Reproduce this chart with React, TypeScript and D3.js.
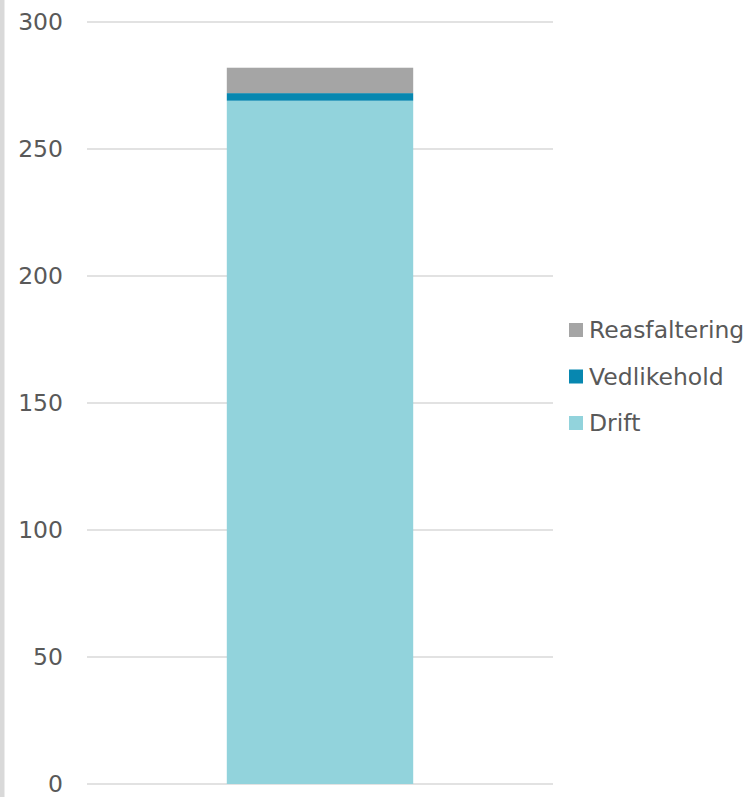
import * as d3 from "d3";

const categories = ["Total"];
const seriesNames = ["Drift", "Vedlikehold", "Reasfaltering"];
const drift = [269];
const vedlikehold = [3];
const reasfaltering = [10];
const yTicks = [0, 50, 100, 150, 200, 250, 300];

const COLORS: Record<string, string> = {
  Drift: "#92D3DC",
  Vedlikehold: "#0787B0",
  Reasfaltering: "#A5A5A5",
};

const W = 753;
const H = 797;
const PLOT = { left: 87, right: 553, top: 22, bottom: 784 };
const FONT = "'DejaVu Sans', Verdana, sans-serif";

export default function App() {
  const rows = categories.map((c, i) => ({
    cat: c,
    Drift: drift[i],
    Vedlikehold: vedlikehold[i],
    Reasfaltering: reasfaltering[i],
  }));

  const stack = d3.stack<(typeof rows)[0]>().keys(seriesNames);
  const layers = stack(rows);

  const y = d3.scaleLinear().domain([0, 300]).range([PLOT.bottom, PLOT.top]);
  const x = d3
    .scaleBand()
    .domain(categories)
    .range([PLOT.left, PLOT.right])
    .paddingInner(0.6)
    .paddingOuter(0.299);

  const legendOrder = [...seriesNames].reverse();

  return (
    <div style={{ position: "fixed", left: 0, top: 0 }}>
      <svg width={W} height={H} style={{ display: "block", background: "white" }}>
        <rect x={0} y={0} width={4.5} height={H} fill="#D9D9D9" />
        {/* gridlines */}
        {yTicks.map((t) => (
          <line
            key={t}
            x1={PLOT.left}
            x2={PLOT.right}
            y1={y(t)}
            y2={y(t)}
            stroke="#D9D9D9"
            strokeWidth={1.5}
          />
        ))}
        {/* tick labels */}
        {yTicks.map((t) => (
          <text
            key={t}
            x={63}
            y={y(t)}
            dy="0.36em"
            textAnchor="end"
            fill="#595959"
            fontSize={23.5}
            fontFamily={FONT}
          >
            {t}
          </text>
        ))}
        {/* bars */}
        {layers.map((layer) =>
          layer.map((d, i) => (
            <rect
              key={layer.key + i}
              x={x(d.data.cat)!}
              width={x.bandwidth()}
              y={y(d[1])}
              height={y(d[0]) - y(d[1])}
              fill={COLORS[layer.key]}
            />
          ))
        )}
        {/* legend */}
        {legendOrder.map((name, i) => {
          const cy = 330 + i * 46.5;
          return (
            <g key={name}>
              <rect x={569} y={cy - 7} width={14} height={14} fill={COLORS[name]} />
              <text
                x={589}
                y={cy}
                dy="0.36em"
                fill="#595959"
                fontSize={23.5}
                fontFamily={FONT}
              >
                {name}
              </text>
            </g>
          );
        })}
      </svg>
    </div>
  );
}
